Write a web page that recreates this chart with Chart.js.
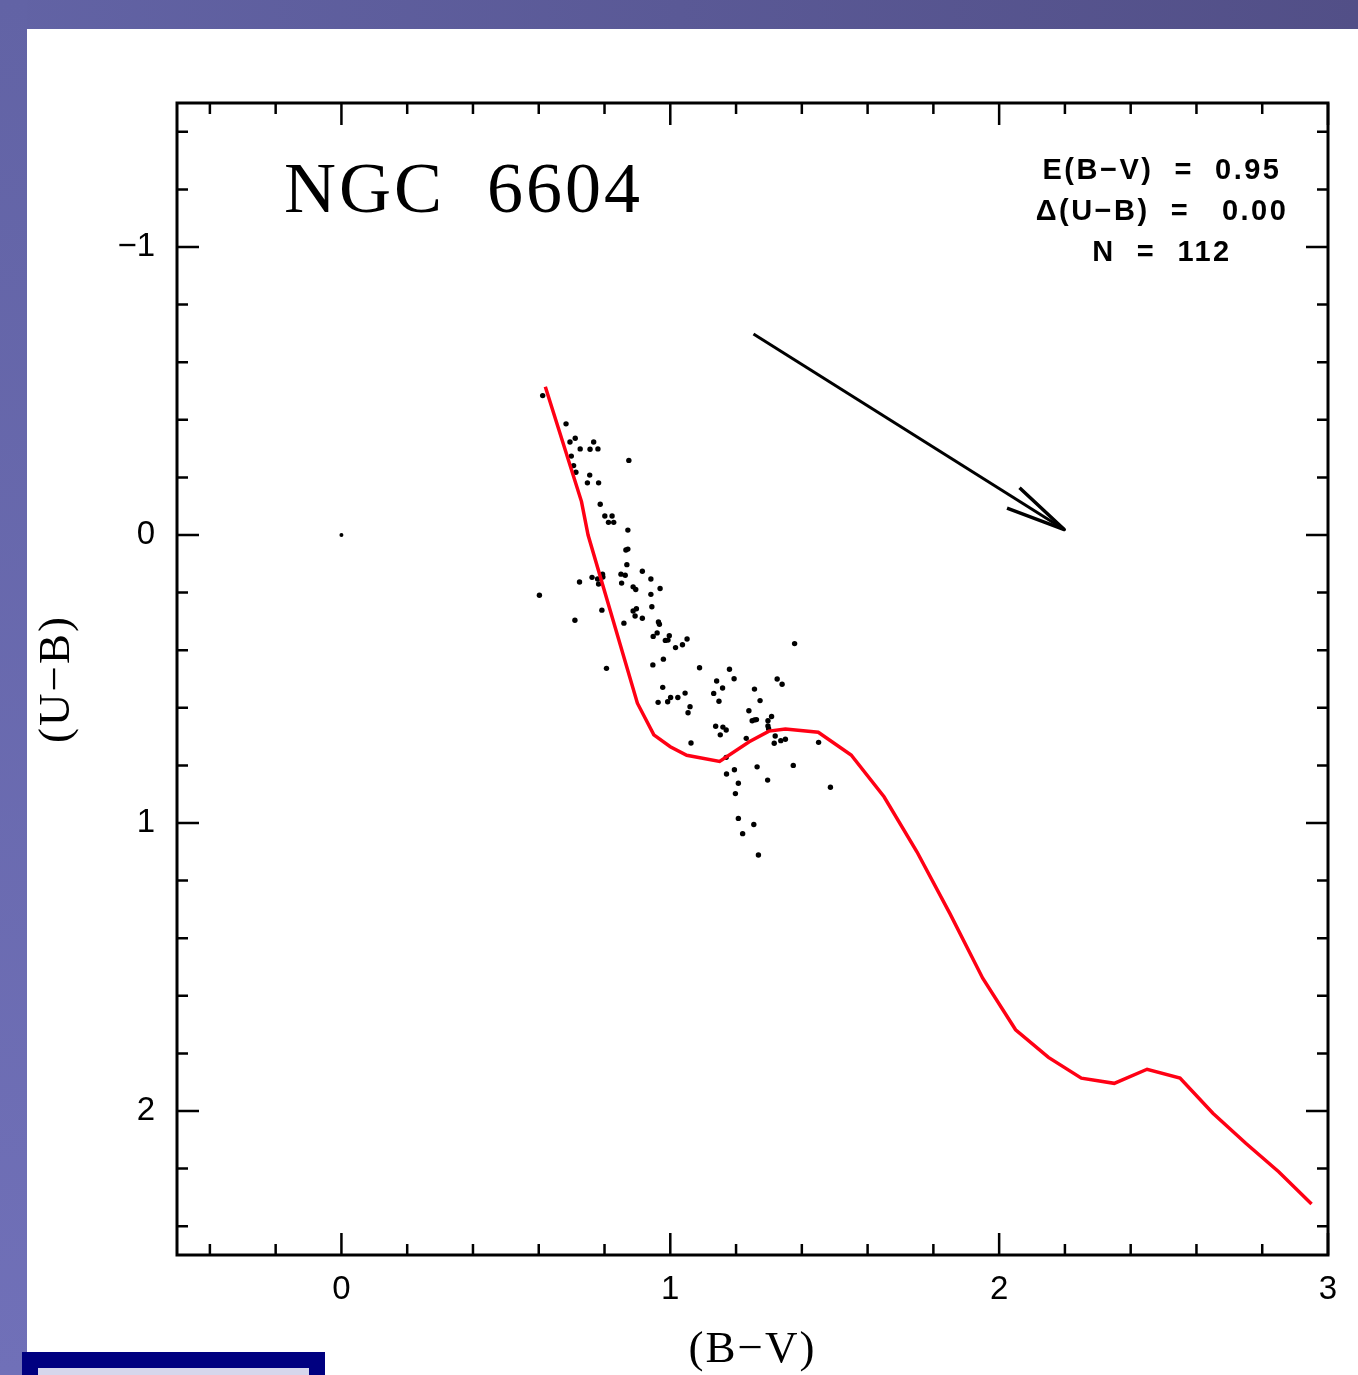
<!DOCTYPE html>
<html>
<head>
<meta charset="utf-8">
<title>NGC 6604 (U-B) vs (B-V)</title>
<script src="https://cdn.jsdelivr.net/npm/chart.js@4.4.0/dist/chart.umd.min.js"></script>
<style>
html, body { margin: 0; padding: 0; width: 1358px; height: 1375px; overflow: hidden; background: #fff; }
#bandTop { position: absolute; left: 0; top: 0; width: 1358px; height: 29px; background: linear-gradient(to right, #6263a5, #524f87); }
#bandLeft { position: absolute; left: 0; top: 0; width: 27px; height: 1375px; background: linear-gradient(to bottom, #6263a5, #7070b8); }
#box { position: absolute; left: 22px; top: 1352px; width: 303px; height: 23px; background: #000080; }
#box div { position: absolute; left: 16px; top: 16px; width: 271px; height: 10px; background: #d6d6ec; }
#wrap { position: absolute; left: 0; top: 0; }
</style>
</head>
<body>
<div id="bandTop"></div>
<div id="bandLeft"></div>
<div id="box"><div></div></div>
<div id="wrap"><canvas id="cmd" width="1358" height="1375"></canvas></div>
<script>
// estrelas observadas (B-V, U-B)
const starBV = [0.612, 0.683, 0.695, 0.711, 0.726, 0.767, 0.756, 0.780, 0.699, 0.706,
	0.713, 0.874, 0.755, 0.748, 0.782, 0.787, 0.801, 0.823, 0.812, 0.828,
	0.871, 0.865, 0.871, 0.868, 0.915, 0.762, 0.794, 0.795, 0.779, 0.782,
	0.724, 0.850, 0.863, 0.852, 0.941, 0.887, 0.895, 0.969, 0.941, 0.602,
	0.792, 0.887, 0.897, 0.944, 0.893, 0.915, 0.859, 0.710, 0.964, 0.967,
	0.960, 0.948, 0.997, 0.985, 0.993, 1.051, 1.037, 1.016, 0.979, 0.947,
	0.806, 1.089, 0.977, 0.963, 0.992, 1.001, 1.023, 1.045, 1.060, 1.054,
	1.378, 1.180, 1.141, 1.194, 1.325, 1.340, 1.159, 1.132, 1.256, 1.148,
	1.273, 1.239, 1.249, 1.256, 1.262, 1.308, 1.297, 1.297, 1.299, 1.138,
	1.160, 1.170, 1.152, 1.319, 1.336, 1.350, 1.316, 1.231, 1.063, 1.451,
	1.170, 1.195, 1.171, 1.264, 1.374, 1.296, 1.207, 1.487, 1.198, 1.207,
	1.254, 1.220, 1.268];
const starUB = [-0.484, -0.386, -0.323, -0.336, -0.299, -0.323, -0.298, -0.299, -0.274, -0.241,
	-0.218, -0.259, -0.208, -0.181, -0.181, -0.107, -0.066, -0.066, -0.044, -0.044,
	-0.017, 0.052, 0.049, 0.103, 0.126, 0.147, 0.136, 0.146, 0.153, 0.170,
	0.163, 0.136, 0.140, 0.167, 0.153, 0.180, 0.189, 0.186, 0.206, 0.209,
	0.261, 0.264, 0.256, 0.249, 0.281, 0.289, 0.306, 0.296, 0.302, 0.310,
	0.340, 0.352, 0.350, 0.366, 0.365, 0.361, 0.381, 0.391, 0.431, 0.451,
	0.463, 0.461, 0.529, 0.581, 0.579, 0.564, 0.564, 0.549, 0.596, 0.617,
	0.377, 0.466, 0.507, 0.499, 0.500, 0.518, 0.531, 0.550, 0.535, 0.577,
	0.575, 0.610, 0.645, 0.642, 0.641, 0.630, 0.645, 0.663, 0.673, 0.664,
	0.667, 0.677, 0.694, 0.698, 0.714, 0.709, 0.723, 0.706, 0.722, 0.720,
	0.772, 0.815, 0.830, 0.805, 0.800, 0.851, 0.862, 0.876, 0.898, 0.984,
	1.005, 1.037, 1.111];

// ponto isolado na origem
const refBV = [0];
const refUB = [0];

// sequencia principal (ZAMS) avermelhada
const zamsBV = [0.62, 0.73, 0.75, 0.90, 0.95, 1.00, 1.05, 1.15, 1.24, 1.30, 1.35, 1.45, 1.55,
	1.65, 1.75, 1.85, 1.95, 2.05, 2.15, 2.25, 2.35, 2.45, 2.55, 2.65, 2.75, 2.85, 2.95];
const zamsUB = [-0.515, -0.116, 0.000, 0.584, 0.694, 0.735, 0.765, 0.786, 0.718, 0.681, 0.674, 0.685, 0.764,
	0.909, 1.100, 1.314, 1.539, 1.718, 1.814, 1.886, 1.904, 1.855, 1.886, 2.008, 2.112, 2.211, 2.323];

// vetor de avermelhamento
const arrowBV = [1.253, 2.198];
const arrowUB = [-0.698, -0.019];
const headBV = [2.062, 2.198, 2.024];
const headUB = [-0.164, -0.019, -0.093];

const xMajor = [0, 1, 2, 3];
const yMajor = [-1, 0, 1, 2];
const infoLines = ['E(B\u2212V)  =  0.95', '\u0394(U\u2212B)  =   0.00', 'N  =  112'];
const titleText = 'NGC  6604';
const xTitle = '(B\u2212V)';
const yTitle = '(U\u2212B)';

function pares(xs, ys) {
	return xs.map((v, i) => ({ x: v, y: ys[i] }));
}

function minus(v) {
	return v < 0 ? '\u2212' + Math.abs(v) : String(v);
}

const moldura = {
	id: 'moldura',
	afterDraw(chart) {
		const ctx = chart.ctx;
		const a = chart.chartArea;
		const x = chart.scales.x;
		const y = chart.scales.y;
		ctx.save();
		ctx.strokeStyle = '#000';
		ctx.lineWidth = 3;
		ctx.strokeRect(a.left, a.top, a.right - a.left, a.bottom - a.top);

		ctx.lineWidth = 2.5;
		ctx.beginPath();
		x.ticks.forEach(t => {
			const p = x.getPixelForValue(t.value);
			const L = xMajor.includes(t.value) ? 22 : 11;
			ctx.moveTo(p, a.bottom); ctx.lineTo(p, a.bottom - L);
			ctx.moveTo(p, a.top); ctx.lineTo(p, a.top + L);
		});
		y.ticks.forEach(t => {
			const p = y.getPixelForValue(t.value);
			const L = yMajor.includes(t.value) ? 22 : 11;
			ctx.moveTo(a.left, p); ctx.lineTo(a.left + L, p);
			ctx.moveTo(a.right, p); ctx.lineTo(a.right - L, p);
		});
		ctx.stroke();

		ctx.fillStyle = '#000';
		ctx.textBaseline = 'alphabetic';

		// nome do aglomerado
		ctx.font = '72px "Liberation Serif"';
		ctx.letterSpacing = '3px';
		ctx.textAlign = 'left';
		ctx.fillText(titleText, a.left + 107, a.top + 109);

		// parametros
		ctx.font = 'bold 29px "Liberation Sans"';
		ctx.letterSpacing = '2.5px';
		ctx.textAlign = 'center';
		infoLines.forEach((s, i) => {
			ctx.fillText(s, a.right - 166, a.top + 76 + i * 41);
		});

		// titulos dos eixos
		ctx.font = '45px "Liberation Serif"';
		ctx.letterSpacing = '2px';
		ctx.fillText(xTitle, (a.left + a.right) / 2, a.bottom + 107);
		ctx.save();
		ctx.translate(a.left - 108, (a.top + a.bottom) / 2);
		ctx.rotate(-Math.PI / 2);
		ctx.fillText(yTitle, 0, 0);
		ctx.restore();

		ctx.restore();
	}
};

const cmd = document.getElementById('cmd');
const chart = new Chart(cmd, {
	type: 'scatter',
	data: {
		datasets: [
			{
				label: 'ZAMS',
				data: pares(zamsBV, zamsUB),
				showLine: true,
				borderColor: 'rgb(255, 0, 20)',
				borderWidth: 3.5,
				pointRadius: 0,
				fill: false
			},
			{
				label: 'estrelas',
				data: pares(starBV, starUB),
				backgroundColor: '#000',
				borderWidth: 0,
				pointRadius: 2.7
			},
			{
				label: 'origem',
				data: pares(refBV, refUB),
				backgroundColor: '#000',
				borderWidth: 0,
				pointRadius: 2
			},
			{
				label: 'vetor',
				data: pares(arrowBV, arrowUB),
				showLine: true,
				borderColor: '#000',
				borderWidth: 3,
				pointRadius: 0
			},
			{
				label: 'ponta',
				data: pares(headBV, headUB),
				showLine: true,
				borderColor: '#000',
				borderWidth: 3.5,
				borderJoinStyle: 'round',
				pointRadius: 0
			}
		]
	},
	options: {
		responsive: false,
		animation: false,
		layout: { padding: { top: 103, right: 30, left: 0, bottom: 0 } },
		plugins: {
			legend: { display: false },
			tooltip: { enabled: false }
		},
		scales: {
			x: {
				type: 'linear',
				min: -0.5,
				max: 3.0,
				grid: { display: false, drawTicks: false },
				border: { display: false },
				afterBuildTicks: scale => {
					const t = [];
					for (let i = -2; i <= 15; i++) t.push({ value: Math.round(i * 2) / 10 });
					scale.ticks = t;
				},
				afterFit: scale => { scale.height = 120; },
				ticks: {
					padding: 15,
					color: '#000',
					font: { family: '"Liberation Sans"', size: 33 },
					maxRotation: 0,
					autoSkip: false,
					callback: v => xMajor.includes(v) ? minus(v) : ''
				}
			},
			y: {
				type: 'linear',
				reverse: true,
				min: -1.5,
				max: 2.5,
				grid: { display: false, drawTicks: false },
				border: { display: false },
				afterBuildTicks: scale => {
					const t = [];
					for (let i = -7; i <= 12; i++) t.push({ value: Math.round(i * 2) / 10 });
					scale.ticks = t;
				},
				afterFit: scale => { scale.width = 177; },
				ticks: {
					padding: 22,
					color: '#000',
					font: { family: '"Liberation Sans"', size: 33 },
					autoSkip: false,
					callback: v => yMajor.includes(v) ? minus(v) : ''
				}
			}
		}
	},
	plugins: [moldura]
});
</script>
</body>
</html>
